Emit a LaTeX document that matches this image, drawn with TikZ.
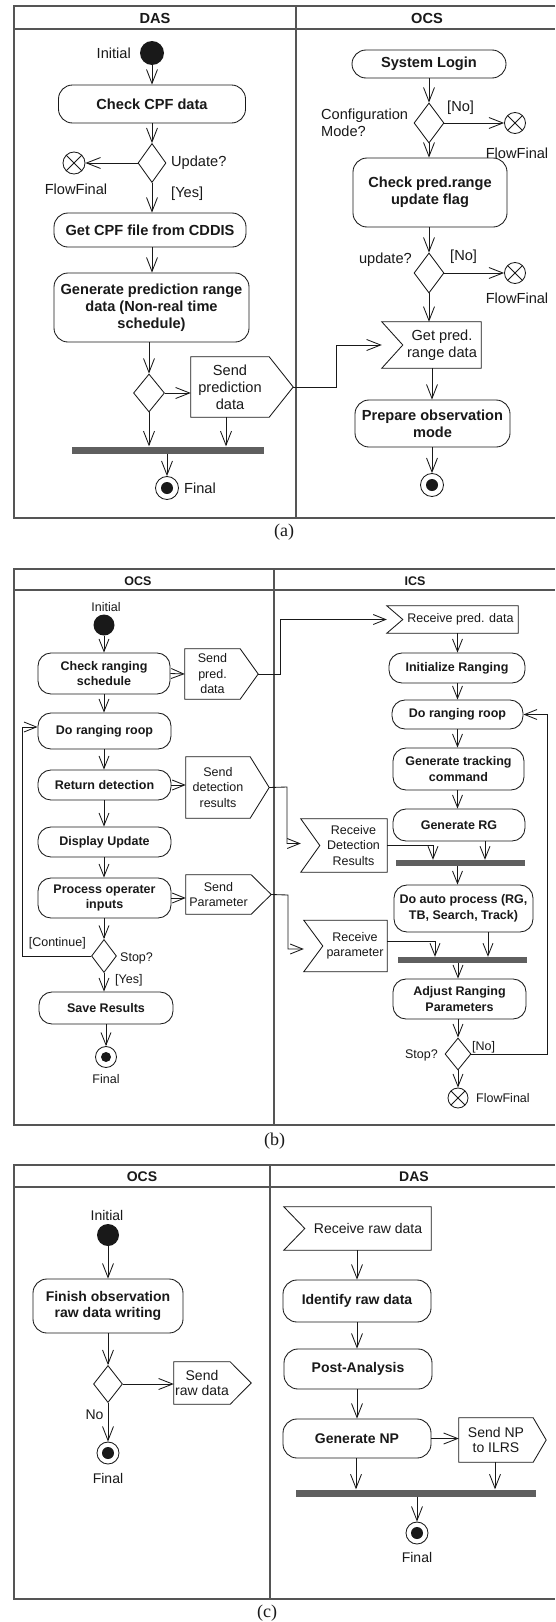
\documentclass[tikz,border=0pt]{standalone}
\usepackage{fontspec}
\setmainfont{Liberation Sans}
\newfontfamily\capfont{Liberation Serif}
\usetikzlibrary{arrows.meta,shapes.geometric,calc}

\definecolor{framec}{RGB}{85,85,85}
\definecolor{barc}{RGB}{95,95,95}
\definecolor{ink}{RGB}{25,25,25}

% send signal: pointed on the east side, tip stored as <name>-tip
\newcommand\sigsend[2]{%
  \draw[ln] (#1.north west) -- (#1.north east) -- ([xshift=#2]#1.east) -- (#1.south east) -- (#1.south west) -- cycle;
  \coordinate (#1-tip) at ([xshift=#2]#1.east);}
% receive signal: notched on the west side, outer edge stored as <name>-in
\newcommand\sigrecv[2]{%
  \draw[ln] (#1.north east) -- (#1.south east) -- ([xshift=-#2]#1.south west) -- (#1.west) -- ([xshift=-#2]#1.north west) -- cycle;
  \coordinate (#1-in) at ([xshift=-#2]#1.west);}

\tikzset{
  ln/.style={draw=ink, line width=0.85pt},
  frm/.style={draw=framec, line width=1.3pt},
  act/.style={draw=ink, line width=0.85pt, rounded corners=\prad, inner sep=0pt, align=center, font=\pfs\bfseries, text=ink},
  lbl/.style={inner sep=0pt, font=\pfs, text=ink},
  sigtext/.style={inner sep=0pt, align=center, font=\pfs, text=ink},
  hdr/.style={inner sep=0pt, font=\pfs\bfseries, text=ink},
  dec/.style={diamond, draw=ink, line width=0.85pt, inner sep=0pt},
  startdot/.style={circle, fill=ink, inner sep=0pt},
  endmark/.style={circle, draw=ink, line width=0.85pt, fill=white, inner sep=0pt,
    path picture={\fill[ink] (path picture bounding box.center) circle (#1);}},
  flowend/.style={circle, draw=ink, line width=0.85pt, inner sep=0pt,
    path picture={\draw[ink, line width=0.85pt]
      (path picture bounding box.north west) -- (path picture bounding box.south east)
      (path picture bounding box.north east) -- (path picture bounding box.south west);}},
  joinbar/.style={fill=barc, inner sep=0pt},
  arr/.style={ln, -{Straight Barb[length=14pt,width=11pt]}},
  capf/.style={inner sep=0pt, font=\capfont\fontsize{18}{18}\selectfont, text=ink},
}

\begin{document}
\begin{tikzpicture}[x=1pt, y=-1pt]
\fill[white] (0,0) rectangle (555,1622);
\useasboundingbox (0,0) rectangle (555,1622);

% ================= (a) =================
\begin{scope}
\def\pfs{\fontsize{14.6}{17}\selectfont}
\def\prad{14pt}
\draw[frm] (555,6) -- (14,6) -- (14,518) -- (555,518);
\draw[frm] (14,29) -- (555,29);
\draw[frm] (296,6) -- (296,518);
\node[hdr] (a-h1) at (155,18) {DAS};
\node[hdr] (a-h2) at (427,18) {OCS};

% DAS lane
\node[startdot, minimum size=24pt] (a-init) at (152,53) {};
\node[lbl, anchor=east] (a-initl) at (131,53) {Initial};
\node[act, minimum width=187pt, minimum height=38pt] (a-chk) at (152,104) {Check CPF data};
\node[dec, minimum width=28pt, minimum height=39pt] (a-d1) at (152,163) {};
\node[lbl, anchor=west] (a-d1l) at (171,163) {Update?};
\node[flowend, minimum size=22pt] (a-ff1) at (74,163) {};
\node[lbl] (a-ff1l) at (76,189) {FlowFinal};
\node[lbl, anchor=west] (a-yes) at (171,194) {[Yes]};
\node[act, minimum width=192pt, minimum height=34pt] (a-get) at (150,230) {Get CPF file from CDDIS};
\node[act, minimum width=195pt, minimum height=69pt] (a-gen) at (151.5,307.5) {Generate prediction range\\data (Non-real time\\schedule)};
\node[dec, minimum width=31pt, minimum height=38pt] (a-d2) at (149,393) {};
\node[sigtext, minimum width=78pt, minimum height=60pt] (a-spd) at (230,387) {Send\\prediction\\data};
\sigsend{a-spd}{24pt}
\node[joinbar, minimum width=192pt, minimum height=7pt] (a-bar) at (168,450) {};
\node[endmark=6pt, minimum size=23pt] (a-end) at (167,488) {};
\node[lbl, anchor=west] (a-endl) at (184,488) {Final};

% OCS lane
\node[act, minimum width=154pt, minimum height=28pt] (a-login) at (429,64) {System Login};
\node[dec, minimum width=30pt, minimum height=40pt] (a-d3) at (429,123) {};
\node[lbl, anchor=west, align=left] (a-d3l) at (321,123) {Configuration\\Mode?};
\node[lbl, anchor=west] (a-no1) at (447,108) {[No]};
\node[flowend, minimum size=21pt] (a-ff2) at (515,123) {};
\node[lbl] (a-ff2l) at (517,153) {FlowFinal};
\node[act, minimum width=154pt, minimum height=69pt] (a-flag) at (430,192.5) {Check pred.range\\update flag};
\node[dec, minimum width=30pt, minimum height=40pt] (a-d4) at (429,273) {};
\node[lbl, anchor=east] (a-d4l) at (412,260) {update?};
\node[lbl, anchor=west] (a-no2) at (450,257) {[No]};
\node[flowend, minimum size=21pt] (a-ff3) at (515,273) {};
\node[lbl] (a-ff3l) at (517,298) {FlowFinal};
\node[sigtext, minimum width=78pt, minimum height=46pt] (a-get2) at (442,345) {Get pred.\\range data};
\sigrecv{a-get2}{21pt}
\node[act, minimum width=155pt, minimum height=47pt] (a-prep) at (432.5,423.5) {Prepare observation\\mode};
\node[endmark=6pt, minimum size=23pt] (a-end2) at (432,485) {};

% flows
\draw[arr] (a-init) -- (a-chk);
\draw[arr] (a-chk) -- (a-d1);
\draw[arr] (a-d1.west) -- (a-ff1.east);
\draw[arr] (a-d1.south) -- (a-d1.south |- a-get.north);
\draw[arr] (a-get.south -| a-d1) -- (a-d1 |- a-gen.north);
\draw[arr] (a-gen.south -| a-d2) -- (a-d2.north);
\draw[arr] (a-d2.east) -- (a-d2.east -| a-spd.west);
\draw[arr] (a-d2.south) -- (a-d2.south |- a-bar.north);
\draw[arr] ([xshift=-4pt]a-spd.south) -- ([xshift=-4pt]a-spd.south |- a-bar.north);
\draw[arr] (a-bar.south -| a-end) -- (a-end.north);
\coordinate (a-bend) at (336,387);
\draw[arr] (a-spd-tip) -- (a-bend) |- (a-get2-in);

\draw[arr] (a-login) -- (a-d3);
\draw[arr] (a-d3.east) -- (a-ff2.west);
\draw[arr] (a-d3.south) -- (a-d3.south |- a-flag.north);
\draw[arr] (a-flag.south -| a-d4) -- (a-d4.north);
\draw[arr] (a-d4.east) -- (a-ff3.west);
\draw[arr] (a-d4.south) -- (a-d4.south |- a-get2.north);
\draw[arr] (a-get2.south -| a-end2) -- (a-end2 |- a-prep.north);
\draw[arr] (a-prep.south -| a-end2) -- (a-end2.north);
\end{scope}
\node[capf] (cap-a) at (284,532) {(a)};

% ================= (b) =================
\begin{scope}[arr/.style={ln, -{Straight Barb[length=12.5pt,width=10pt]}}]
\def\pfs{\fontsize{12.5}{15.5}\selectfont}
\def\prad{13pt}
\draw[frm] (555,569) -- (14,569) -- (14,1125) -- (555,1125);
\draw[frm] (14,590) -- (555,590);
\draw[frm] (274,569) -- (274,1125);
\node[hdr] (b-h1) at (138,581) {OCS};
\node[hdr] (b-h2) at (415,581) {ICS};

% OCS lane
\node[lbl] (b-initl) at (106,607) {Initial};
\node[startdot, minimum size=21pt] (b-init) at (104,625) {};
\node[act, minimum width=132pt, minimum height=41pt] (b-chk) at (104,673.5) {Check ranging\\schedule};
\node[sigtext, minimum width=55pt, minimum height=50pt] (b-spd) at (212.5,674) {Send\\pred.\\data};
\sigsend{b-spd}{18pt}
\node[act, minimum width=133pt, minimum height=36pt] (b-loop) at (104.5,731) {Do ranging roop};
\node[act, minimum width=133pt, minimum height=30pt] (b-ret) at (104.5,785) {Return detection};
\node[sigtext, minimum width=64pt, minimum height=61pt] (b-sdr) at (218,787.5) {Send\\detection\\results};
\sigsend{b-sdr}{19pt}
\node[act, minimum width=133pt, minimum height=30pt] (b-disp) at (104.5,842) {Display Update};
\node[act, minimum width=133pt, minimum height=40pt] (b-proc) at (104.5,898) {Process operater\\inputs};
\node[sigtext, minimum width=65pt, minimum height=39pt] (b-spar) at (218.5,894.5) {Send\\Parameter};
\sigsend{b-spar}{20pt}
\node[dec, minimum width=25pt, minimum height=33pt] (b-d1) at (104,956) {};
\node[lbl, anchor=west] (b-d1l) at (120,958) {Stop?};
\node[lbl, anchor=east] (b-cont) at (86,943) {[Continue]};
\node[lbl, anchor=west] (b-yes) at (115,980) {[Yes]};
\node[act, minimum width=134pt, minimum height=32pt] (b-save) at (106,1008) {Save Results};
\node[endmark=5pt, minimum size=21pt] (b-end) at (106,1057) {};
\node[lbl] (b-endl) at (106,1079) {Final};

% ICS lane
\node[sigtext, minimum width=115pt, minimum height=27pt] (b-rpd) at (460.5,619.5) {Receive pred. data};
\sigrecv{b-rpd}{16pt}
\node[act, minimum width=136pt, minimum height=30pt] (b-ini) at (457,668) {Initialize Ranging};
\node[act, minimum width=131pt, minimum height=29pt] (b-loop2) at (457.5,714.5) {Do ranging roop};
\node[act, minimum width=131pt, minimum height=42pt] (b-gtc) at (458.5,769) {Generate tracking\\command};
\node[act, minimum width=132pt, minimum height=32pt] (b-grg) at (459,825) {Generate RG};
\node[sigtext, minimum width=67pt, minimum height=53pt] (b-rdr) at (353.5,845.5) {Receive\\Detection\\Results};
\sigrecv{b-rdr}{19pt}
\node[joinbar, minimum width=129pt, minimum height=6pt] (b-bar1) at (460.5,863) {};
\node[act, minimum width=139pt, minimum height=47pt] (b-auto) at (463.5,908.5) {Do auto process (RG,\\TB, Search, Track)};
\node[sigtext, minimum width=64pt, minimum height=51pt] (b-rpar) at (355,946) {Receive\\parameter};
\sigrecv{b-rpar}{19pt}
\node[joinbar, minimum width=129pt, minimum height=6pt] (b-bar2) at (462.5,960) {};
\node[act, minimum width=133pt, minimum height=40pt] (b-adj) at (459.5,999) {Adjust Ranging\\Parameters};
\node[dec, minimum width=26pt, minimum height=32pt] (b-d2) at (458,1054) {};
\node[lbl, anchor=east] (b-d2l) at (438,1055) {Stop?};
\node[lbl, anchor=west] (b-no) at (472,1047) {[No]};
\node[flowend, minimum size=20pt] (b-ff) at (458,1098) {};
\node[lbl, anchor=west] (b-ffl) at (476,1098) {FlowFinal};

% flows, OCS
\draw[arr] (b-init) -- (b-init |- b-chk.north);
\draw[arr] (b-chk.east) -- (b-spd.west);
\draw[arr] (b-chk.south) -- (b-chk.south |- b-loop.north);
\draw[arr] (b-loop.south -| b-chk) -- (b-chk |- b-ret.north);
\draw[arr] (b-ret.east) -- (b-ret.east -| b-sdr.west);
\draw[arr] (b-ret.south -| b-chk) -- (b-chk |- b-disp.north);
\draw[arr] (b-disp.south -| b-chk) -- (b-chk |- b-proc.north);
\draw[arr] (b-proc.east) -- (b-proc.east -| b-spar.west);
\draw[arr] (b-proc.south -| b-d1) -- (b-d1.north);
\draw[arr] (b-d1.south) -- (b-d1.south |- b-save.north);
\draw[arr] (b-save.south -| b-end) -- (b-end.north);
\coordinate (b-lp) at (22,727);
\draw[arr] (b-d1.west) -| (b-lp) -- (b-lp -| b-loop.west);

% flows, across lanes
\coordinate (b-k1) at (280,674);
\draw[arr] (b-spd-tip) -- (b-k1) |- (b-rpd-in);
\coordinate (b-k2) at (287,787);
\draw[arr] (b-sdr-tip) -- (b-k2) |- ([yshift=2pt]b-rdr-in);
\coordinate (b-k3) at (288,895);
\draw[arr] (b-spar-tip) -- (b-k3) |- ([yshift=-3pt]b-rpar-in);

% flows, ICS
\draw[arr] (b-rpd.south -| b-loop2) -- (b-loop2 |- b-ini.north);
\draw[arr] (b-ini.south -| b-loop2) -- (b-loop2.north);
\draw[arr] (b-loop2.south) -- (b-loop2.south |- b-gtc.north);
\draw[arr] (b-gtc.south -| b-loop2) -- (b-loop2 |- b-grg.north);
\draw[arr] ([xshift=26pt]b-grg.south) -- ([xshift=26pt]b-grg.south |- b-bar1.north);
\draw[arr] (b-rdr.east) -| ([xshift=-27.5pt]b-bar1.north);
\draw[arr] (b-bar1.south -| b-loop2) -- (b-loop2 |- b-auto.north);
\draw[arr] ([xshift=24.5pt]b-auto.south) -- ([xshift=24.5pt]b-auto.south |- b-bar2.north);
\draw[arr] ([yshift=5pt]b-rpar.east) -| ([xshift=-27.5pt]b-bar2.north);
\draw[arr] (b-bar2.south -| b-d2) -- (b-d2 |- b-adj.north);
\draw[arr] (b-adj.south -| b-d2) -- (b-d2.north);
\draw[arr] (b-d2.south) -- (b-ff.north);
\coordinate (b-rl) at (547,714.5);
\draw[arr] (b-d2.east) -| (b-rl) -- (b-loop2.east);
\end{scope}
\node[capf] (cap-b) at (274.5,1141) {(b)};

% ================= (c) =================
\begin{scope}
\def\pfs{\fontsize{14}{15.5}\selectfont}
\def\prad{14pt}
\draw[frm] (555,1165) -- (14,1165) -- (14,1599) -- (555,1599);
\draw[frm] (14,1187) -- (555,1187);
\draw[frm] (270,1165) -- (270,1599);
\node[hdr] (c-h1) at (142,1177) {OCS};
\node[hdr] (c-h2) at (414,1177) {DAS};

% OCS lane
\node[lbl] (c-initl) at (107,1215) {Initial};
\node[startdot, minimum size=22pt] (c-init) at (108,1235) {};
\node[act, minimum width=150pt, minimum height=54pt] (c-fin) at (108,1306) {Finish observation\\raw data writing};
\node[dec, minimum width=29pt, minimum height=37pt] (c-d) at (108,1384) {};
\node[sigtext, minimum width=56pt, minimum height=42pt] (c-srd) at (202,1383) {Send\\raw data};
\sigsend{c-srd}{21pt}
\node[lbl] (c-no) at (94.5,1415) {No};
\node[endmark=6pt, minimum size=22pt] (c-end) at (108,1453) {};
\node[lbl] (c-endl) at (108,1478) {Final};

% DAS lane
\node[sigtext, minimum width=126pt, minimum height=43pt] (c-rrd) at (368,1228.5) {Receive raw data};
\sigrecv{c-rrd}{21pt}
\node[act, minimum width=148pt, minimum height=42pt] (c-id) at (357,1301) {Identify raw data};
\node[act, minimum width=148pt, minimum height=40pt] (c-post) at (358,1369) {Post-Analysis};
\node[act, minimum width=148pt, minimum height=39pt] (c-gnp) at (357,1438.5) {Generate NP};
\node[sigtext, minimum width=74pt, minimum height=44pt] (c-snp) at (496,1440) {Send NP\\to ILRS};
\sigsend{c-snp}{13pt}
\node[joinbar, minimum width=240pt, minimum height=7pt] (c-bar) at (416,1493) {};
\node[endmark=6pt, minimum size=22pt] (c-end2) at (417,1533) {};
\node[lbl] (c-end2l) at (417,1557) {Final};

% flows
\draw[arr] (c-init) -- (c-fin);
\draw[arr] (c-fin) -- (c-d);
\draw[arr] (c-d.east) -- (c-d.east -| c-srd.west);
\draw[arr] (c-d.south) -- (c-end.north);
\draw[arr] (c-rrd.south -| c-id) -- (c-id.north);
\draw[arr] (c-id.south) -- (c-id.south |- c-post.north);
\draw[arr] (c-post.south -| c-id) -- (c-id |- c-gnp.north);
\draw[arr] (c-gnp.east) -- (c-gnp.east -| c-snp.west);
\draw[arr] ([xshift=-1pt]c-gnp.south) -- ([xshift=-1pt]c-gnp.south |- c-bar.north);
\draw[arr] ([xshift=-1pt]c-snp.south) -- ([xshift=-1pt]c-snp.south |- c-bar.north);
\draw[arr] (c-bar.south -| c-end2) -- (c-end2.north);
\end{scope}
\node[capf] (cap-c) at (267,1613) {(c)};
\end{tikzpicture}
\end{document}
